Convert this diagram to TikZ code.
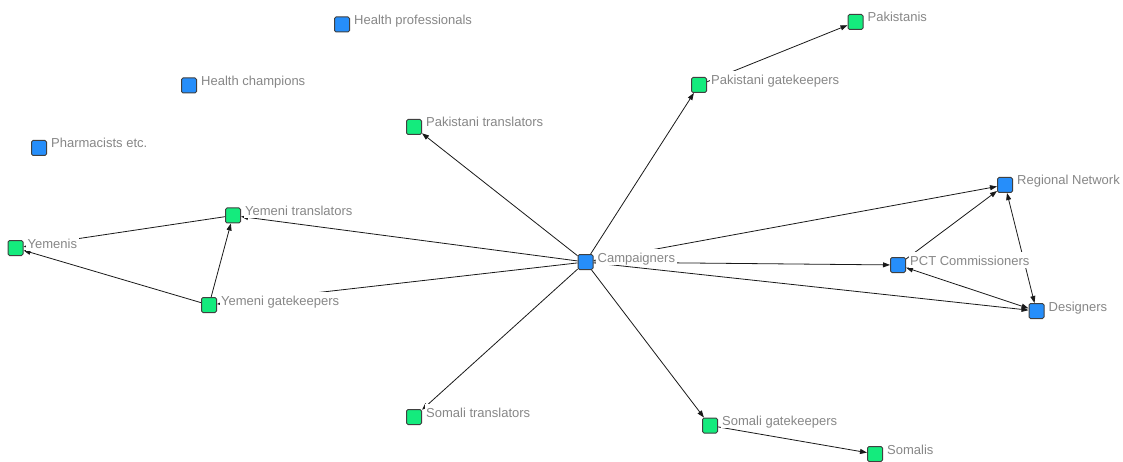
\documentclass[tikz,border=0pt]{standalone}
\usepackage{fontspec}
\setmainfont{Liberation Sans}
\usetikzlibrary{arrows.meta}
\definecolor{actorblue}{RGB}{38,142,250}
\definecolor{actorgreen}{RGB}{20,235,125}
\definecolor{labelgray}{RGB}{135,135,135}
\pgfdeclarelayer{edges}
\pgfsetlayers{edges,main}
\begin{document}
\begin{tikzpicture}[x=1pt,y=-1pt,
  actor/.style={draw=black!75, line width=1pt, rounded corners=1.5pt,
    minimum size=15pt, inner sep=0pt},
  org/.style={actor, fill=actorblue},
  comm/.style={actor, fill=actorgreen},
  lab/.style={anchor=base west, fill=white, text=labelgray,
    font=\fontsize{13}{15}\selectfont, text height=11pt, text depth=0pt,
    inner xsep=1.5pt, inner ysep=2.5pt},
  tip/.tip={Triangle[length=7pt,width=5pt]},
  tie/.style={-tip, line width=0.8pt, draw=black!90},
  mutual/.style={tip-tip, line width=0.8pt, draw=black!90}]
\useasboundingbox (0,0) rectangle (1123,462);

% actors
\node[org]  (hprof)   at (342,24.5) {};
\node[org]  (hchamp)  at (189,85.5) {};
\node[org]  (pharm)   at (39,148)   {};
\node[comm] (pakis)   at (855.5,22) {};
\node[comm] (pakgk)   at (699,85)   {};
\node[comm] (paktr)   at (414,127)  {};
\node[comm] (yemtr)   at (233,215.5){};
\node[comm] (yemenis) at (15.5,248) {};
\node[comm] (yemgk)   at (209,305)  {};
\node[org]  (camp)    at (585.5,262){};
\node[org]  (regnet)  at (1005,185) {};
\node[org]  (pct)     at (898,265)  {};
\node[org]  (design)  at (1036.5,311){};
\node[comm] (somtr)   at (414,417)  {};
\node[comm] (somgk)   at (710,425.5){};
\node[comm] (somalis) at (875,454)  {};

% labels
\node[lab] (hprofL)   at (352.5,24.5) {Health professionals};
\node[lab] (hchampL)  at (199.5,85.5) {Health champions};
\node[lab] (pharmL)   at (49.5,148)   {Pharmacists etc.};
\node[lab] (pakisL)   at (866,22)     {Pakistanis};
\node[lab] (pakgkL)   at (709.5,85)   {Pakistani gatekeepers};
\node[lab] (paktrL)   at (424.5,127)  {Pakistani translators};
\node[lab] (yemtrL)   at (243.5,215.5){Yemeni translators};
\node[lab] (yemenisL) at (26,248)     {Yemenis};
\node[lab] (yemgkL)   at (219.5,305)  {Yemeni gatekeepers};
\node[lab] (campL)    at (596,262)    {Campaigners};
\node[lab] (regnetL)  at (1015.5,185) {Regional Network};
\node[lab] (pctL)     at (908.5,265)  {PCT Commissioners};
\node[lab] (designL)  at (1047,311)   {Designers};
\node[lab] (somtrL)   at (424.5,417)  {Somali translators};
\node[lab] (somgkL)   at (720.5,425.5){Somali gatekeepers};
\node[lab] (somalisL) at (885.5,454)  {Somalis};

% ties
\begin{pgfonlayer}{edges}
\draw[tie] (camp) -- (paktr);
\draw[tie] (camp) -- (pakgk);
\draw[tie] (pakgk) -- (pakis);
\draw[tie] (camp) -- (yemtr);
\draw[tie] (camp) -- (yemgk);
\draw[tie] (yemgk) -- (yemtr);
\draw[tie] (yemgk) -- (yemenis);
\draw[tie] (yemtr) -- (yemenis);
\draw[tie] (camp) -- (regnet);
\draw[tie] (camp) -- (pct);
\draw[tie] (camp) -- (design);
\draw[tie] (pct) -- (regnet);
\draw[mutual] (pct) -- (design);
\draw[mutual] (regnet) -- (design);
\draw[tie] (camp) -- (somgk);
\draw[tie] (somgk) -- (somalis);
\draw[tie] (camp) -- (somtr);
\end{pgfonlayer}
\end{tikzpicture}
\end{document}
